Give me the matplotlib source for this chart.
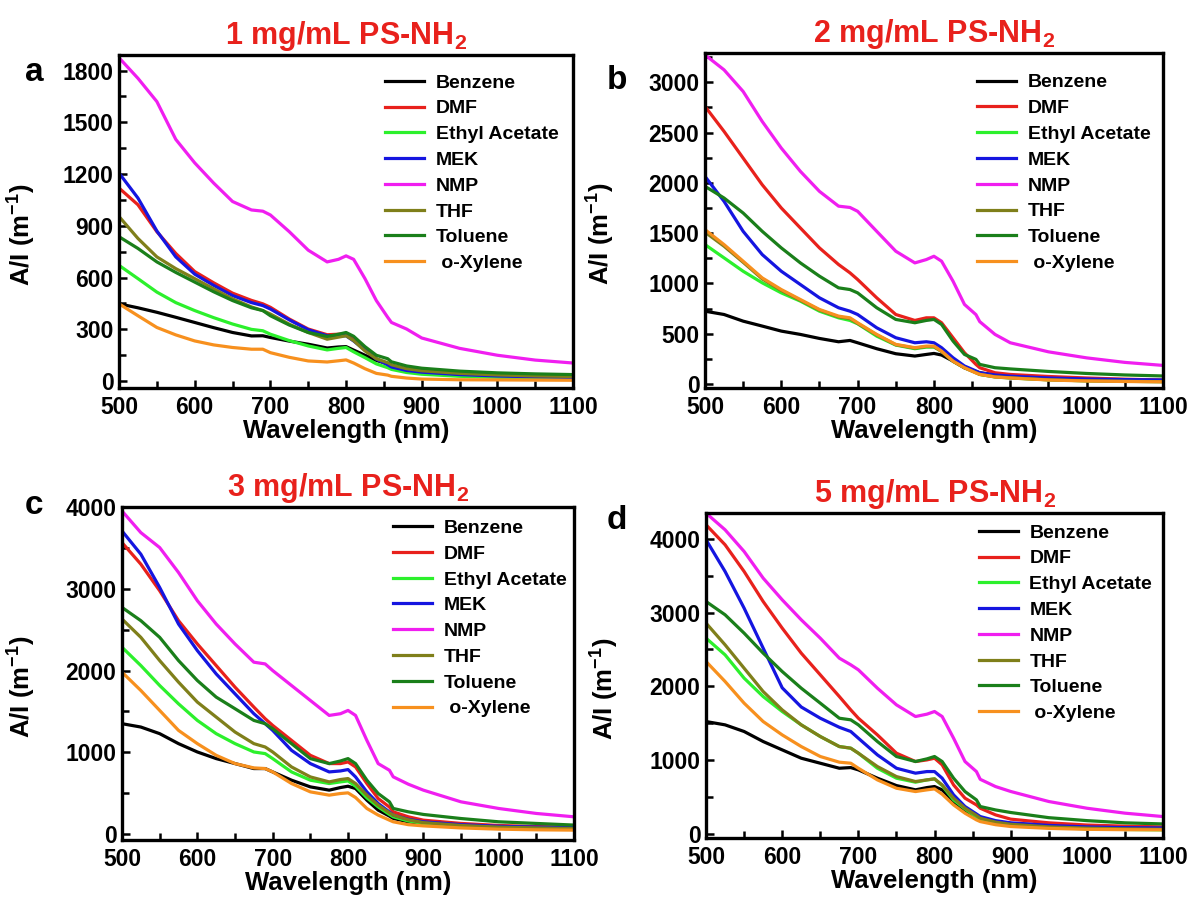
import matplotlib
matplotlib.use("Agg")
import matplotlib.pyplot as plt
from matplotlib.ticker import MultipleLocator

plt.rcParams['font.family'] = ['Liberation Sans', 'DejaVu Sans']
plt.rcParams['font.weight'] = 'bold'
plt.rcParams['axes.labelweight'] = 'bold'
plt.rcParams['mathtext.fontset'] = 'custom'
plt.rcParams['mathtext.rm'] = 'Liberation Sans:bold'
plt.rcParams['mathtext.bf'] = 'Liberation Sans:bold'
plt.rcParams['mathtext.default'] = 'bf'

# wavelength grid (nm) the values were read at
wl = [500, 525, 550, 575, 600, 625, 650, 675, 690, 700, 725, 750, 775, 790,
      800, 810, 825, 840, 855, 860, 880, 900, 950, 1000, 1050, 1100]

solvents = ['Benzene', 'DMF', 'Ethyl Acetate', 'MEK', 'NMP', 'THF', 'Toluene', ' o-Xylene']
colors = ['#000000', '#e8211c', '#2cf02c', '#1515e0', '#f01ef0', '#7f7f1a', '#1a7f1a', '#f7901e']

# 1 mg/mL
benzene_1 = [448, 425, 399, 370, 340, 310, 282, 262, 263, 253, 232, 214, 192, 198, 200, 180, 150, 120, 100, 88, 70, 60, 45, 38, 32, 28]
dmf_1 = [1119, 1022, 866, 740, 635, 570, 510, 468, 448, 428, 360, 302, 269, 272, 272, 247, 185, 130, 97, 85, 65, 55, 40, 32, 27, 24]
ea_1 = [671, 594, 516, 455, 409, 368, 331, 300, 292, 272, 235, 204, 181, 190, 195, 170, 136, 100, 78, 68, 50, 40, 28, 22, 18, 15]
mek_1 = [1206, 1061, 870, 720, 620, 555, 496, 455, 438, 418, 355, 298, 263, 262, 263, 233, 180, 128, 95, 82, 62, 52, 38, 30, 25, 22]
nmp_1 = [1874, 1755, 1620, 1401, 1265, 1148, 1041, 992, 985, 963, 866, 759, 691, 706, 726, 706, 594, 467, 370, 340, 302, 250, 190, 150, 122, 105]
thf_1 = [954, 827, 720, 652, 594, 535, 477, 430, 409, 389, 330, 282, 243, 255, 263, 235, 175, 130, 107, 95, 72, 60, 45, 36, 30, 27]
toluene_1 = [837, 769, 691, 630, 574, 518, 467, 425, 409, 379, 325, 282, 259, 272, 282, 260, 200, 150, 130, 112, 88, 75, 58, 48, 42, 38]
xylene_1 = [448, 379, 311, 268, 233, 210, 195, 185, 185, 165, 138, 117, 111, 118, 123, 105, 72, 45, 35, 28, 18, 12, 8, 7, 6, 5]

# 2 mg/mL
benzene_2 = [724, 691, 625, 576, 526, 493, 453, 420, 433, 410, 351, 301, 278, 294, 304, 288, 228, 162, 125, 112, 90, 75, 58, 47, 40, 35]
dmf_2 = [2760, 2511, 2246, 1981, 1750, 1551, 1353, 1188, 1105, 1039, 857, 691, 632, 658, 658, 609, 460, 311, 195, 162, 112, 95, 75, 60, 48, 40]
ea_2 = [1386, 1254, 1121, 1006, 906, 824, 724, 658, 632, 599, 476, 387, 351, 367, 367, 327, 228, 162, 115, 96, 70, 60, 42, 32, 27, 24]
mek_2 = [2064, 1816, 1518, 1287, 1121, 989, 857, 758, 724, 691, 559, 460, 410, 420, 410, 361, 261, 179, 130, 112, 90, 78, 60, 50, 44, 40]
nmp_2 = [3272, 3123, 2908, 2610, 2345, 2114, 1915, 1768, 1755, 1717, 1518, 1320, 1204, 1237, 1270, 1221, 1022, 791, 690, 620, 493, 410, 320, 260, 215, 185]
thf_2 = [1510, 1370, 1210, 1045, 930, 832, 735, 668, 650, 602, 488, 390, 357, 372, 372, 322, 225, 160, 112, 95, 72, 62, 42, 32, 27, 23]
toluene_2 = [1965, 1849, 1700, 1518, 1353, 1204, 1072, 956, 939, 906, 758, 642, 609, 632, 642, 592, 427, 294, 245, 195, 162, 150, 125, 105, 90, 80]
xylene_2 = [1535, 1386, 1221, 1055, 939, 840, 741, 675, 658, 609, 493, 394, 361, 377, 377, 327, 228, 162, 110, 96, 70, 60, 40, 30, 25, 22]

# 3 mg/mL
benzene_3 = [1350, 1309, 1228, 1106, 1004, 923, 862, 801, 801, 760, 659, 577, 537, 569, 585, 557, 415, 293, 220, 191, 150, 130, 105, 90, 78, 70]
dmf_3 = [3565, 3301, 2976, 2610, 2325, 2061, 1797, 1553, 1411, 1329, 1146, 963, 862, 862, 882, 821, 618, 435, 330, 272, 211, 170, 130, 105, 92, 85]
ea_3 = [2285, 2061, 1817, 1593, 1390, 1228, 1106, 1004, 984, 923, 760, 659, 618, 638, 650, 585, 443, 333, 240, 211, 160, 130, 100, 80, 70, 65]
mek_3 = [3707, 3423, 3016, 2569, 2244, 1959, 1715, 1472, 1350, 1268, 1024, 862, 760, 772, 789, 699, 516, 374, 270, 232, 180, 150, 115, 95, 85, 80]
nmp_3 = [3951, 3687, 3504, 3199, 2854, 2569, 2325, 2102, 2081, 2000, 1817, 1634, 1451, 1472, 1512, 1451, 1146, 862, 780, 700, 610, 537, 394, 313, 252, 211]
thf_3 = [2630, 2406, 2122, 1858, 1614, 1431, 1248, 1106, 1065, 1004, 821, 699, 638, 667, 679, 618, 476, 354, 260, 232, 175, 140, 105, 85, 75, 68]
toluene_3 = [2772, 2610, 2406, 2122, 1878, 1675, 1533, 1390, 1350, 1289, 1106, 923, 862, 894, 923, 862, 659, 496, 394, 313, 272, 240, 190, 150, 130, 110]
xylene_3 = [1980, 1756, 1512, 1268, 1106, 963, 862, 809, 801, 760, 618, 516, 476, 496, 504, 447, 313, 232, 170, 150, 115, 100, 75, 60, 52, 48]

# 5 mg/mL
benzene_5 = [1523, 1478, 1388, 1252, 1139, 1026, 958, 890, 899, 868, 755, 655, 597, 628, 642, 597, 438, 312, 220, 190, 160, 140, 115, 95, 82, 75]
dmf_5 = [4190, 3919, 3557, 3150, 2789, 2450, 2156, 1862, 1681, 1568, 1342, 1094, 981, 1003, 1026, 936, 664, 484, 393, 348, 258, 200, 150, 120, 105, 95]
ea_5 = [2653, 2427, 2111, 1862, 1659, 1478, 1320, 1184, 1162, 1094, 890, 755, 701, 732, 746, 655, 461, 339, 230, 190, 140, 115, 85, 70, 60, 55]
mek_5 = [3987, 3557, 3060, 2518, 1980, 1720, 1568, 1445, 1388, 1297, 1071, 890, 823, 845, 845, 755, 529, 371, 270, 235, 180, 150, 115, 95, 85, 80]
nmp_5 = [4348, 4122, 3828, 3467, 3173, 2902, 2653, 2382, 2292, 2224, 1975, 1749, 1591, 1623, 1659, 1591, 1297, 981, 845, 740, 642, 575, 439, 348, 281, 235]
thf_5 = [2857, 2563, 2246, 1930, 1681, 1478, 1320, 1184, 1162, 1094, 913, 777, 710, 732, 746, 664, 484, 348, 250, 212, 160, 130, 95, 78, 68, 62]
toluene_5 = [3150, 2970, 2721, 2450, 2201, 1975, 1772, 1568, 1546, 1478, 1252, 1049, 981, 1017, 1049, 981, 755, 574, 461, 371, 325, 290, 220, 180, 150, 135]
xylene_5 = [2337, 2066, 1772, 1523, 1342, 1184, 1049, 972, 958, 890, 732, 619, 574, 597, 610, 538, 393, 280, 190, 167, 125, 100, 75, 62, 57, 55]

titles = ['1 mg/mL PS-NH$_2$', '2 mg/mL PS-NH$_2$', '3 mg/mL PS-NH$_2$', '5 mg/mL PS-NH$_2$']
letters = ['a', 'b', 'c', 'd']

panels = [
    [benzene_1, dmf_1, ea_1, mek_1, nmp_1, thf_1, toluene_1, xylene_1],
    [benzene_2, dmf_2, ea_2, mek_2, nmp_2, thf_2, toluene_2, xylene_2],
    [benzene_3, dmf_3, ea_3, mek_3, nmp_3, thf_3, toluene_3, xylene_3],
    [benzene_5, dmf_5, ea_5, mek_5, nmp_5, thf_5, toluene_5, xylene_5],
]

# layout: [left, bottom, width, height], y limits, tick steps
rects = [[0.1002, 0.5698, 0.3822, 0.3692],
         [0.5934, 0.5698, 0.3855, 0.3714],
         [0.1027, 0.0687, 0.3805, 0.3692],
         [0.5943, 0.0710, 0.3847, 0.3603]]
ylims = [(-40, 1890), (-40, 3290), (-73, 4000), (-55, 4350)]
ysteps = [300, 500, 1000, 1000]
leg_y = [0.943, 0.938, 0.963, 0.966]
leg_x = [0.586, 0.594, 0.600, 0.597]
letter_pos = [(0.0286, 0.920), (0.519, 0.911), (0.0286, 0.440), (0.519, 0.4235)]
ylabel_x = [0.032, 0.519, 0.032, 0.523]

fig = plt.figure(figsize=(11.88, 9.02), dpi=100)

for i in range(4):
    ax = fig.add_axes(rects[i])
    for name, col, vals in zip(solvents, colors, panels[i]):
        ax.plot(wl, vals, color=col, lw=2.3, label=name)
    ax.set_xlim(500, 1100)
    ax.set_ylim(*ylims[i])
    ax.xaxis.set_major_locator(MultipleLocator(100))
    ax.xaxis.set_minor_locator(MultipleLocator(50))
    ax.yaxis.set_major_locator(MultipleLocator(ysteps[i]))
    ax.yaxis.set_minor_locator(MultipleLocator(ysteps[i] / 2))
    ax.tick_params(which='both', direction='in', width=1.8, labelsize=16.5, top=False, right=False)
    ax.tick_params(which='major', length=6)
    ax.tick_params(which='minor', length=5)
    ax.tick_params(axis='x', which='major', pad=6)
    ax.tick_params(axis='y', which='major', pad=4)
    for sp in ax.spines.values():
        sp.set_linewidth(2.4)
    ax.set_xlabel('Wavelength (nm)', fontsize=18.5, labelpad=0)
    ax.set_ylabel('A/I (m$^{-1}$)', fontsize=18.5)
    ax.yaxis.set_label_coords((ylabel_x[i] - rects[i][0]) / rects[i][2], 0.46)
    ax.set_title(titles[i], color='#e8211c', fontsize=22, fontweight='bold', pad=8)
    ax.legend(loc='upper left', bbox_to_anchor=(leg_x[i], leg_y[i]), frameon=False,
              fontsize=14, borderpad=0, borderaxespad=0, handlelength=2.0,
              handletextpad=0.6, labelspacing=0.42)
    fig.text(letter_pos[i][0], letter_pos[i][1], letters[i], fontsize=24,
             fontweight='bold', ha='center', va='center')

fig.savefig('out.png', dpi=100)
